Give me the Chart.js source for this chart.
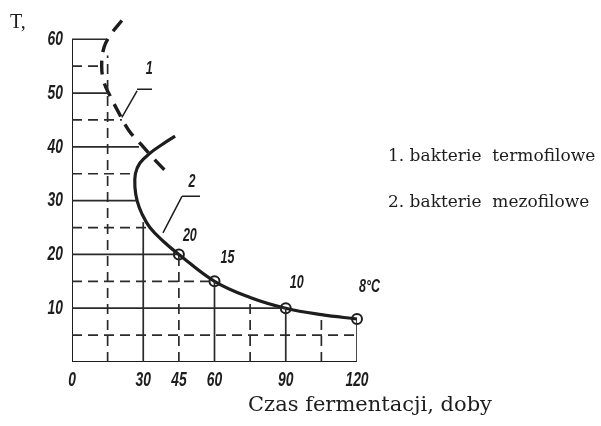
<!DOCTYPE html>
<html>
<head>
<meta charset="utf-8">
<script src="https://cdn.jsdelivr.net/npm/chart.js@4"></script>
<style>
  html, body { margin: 0; padding: 0; background: #fff; }
  #wrap { width: 601px; height: 426px; }
</style>
</head>
<body>
<div id="wrap"><canvas id="c"></canvas></div>
<script>
// krzywa 2 - bakterie mezofilowe (czas fermentacji, temperatura)
const mesoX = [120, 105, 90, 75, 60, 45, 38.3, 32.8, 29.5, 27.4, 26.5, 26.7, 28.6, 32.8, 37.5, 43.4];
const mesoT = [8, 8.8, 10, 12, 15, 20, 22.5, 25, 27.5, 30, 32.5, 35, 37, 38.8, 40.3, 42];
// krzywa 1 - bakterie termofilowe
const thermoX = [21, 16.5, 13.5, 12.5, 13.5, 16, 19.5, 24, 29, 33, 37, 41];
const thermoT = [63.5, 61, 58.5, 55, 52, 49.5, 46.5, 43, 40.5, 38.5, 36.6, 34.8];
// punkty zaznaczone kółkami
const markX = [45, 60, 90, 120];
const markT = [20, 15, 10, 8];
const markLabels = ['20', '15', '10', '8°C'];

const xTicks = [0, 30, 45, 60, 90, 120];
const yTicks = [10, 20, 30, 40, 50, 60];

// linie siatki poziome: poziom T i koniec linii (doby)
const hLevels = [5, 10, 15, 20, 25, 30, 35, 40, 45, 50, 55, 60];
const hEnds   = [120, 90, 60, 45, 32.8, 27.4, 26.7, 28.2, 21, 15.5, 12.6, 14.3];
// linie siatki pionowe: x i koniec linii (T)
const vLevels = [15, 30, 45, 60, 75, 90, 105, 120];
const vEnds   = [57, 26, 20, 15, 12, 10, 8.8, 8];

const legendLines = ['1. bakterie  termofilowe', '2. bakterie  mezofilowe'];

const ink = '#1d1d1d';
const datasets = [];

hLevels.forEach((t, i) => {
  datasets.push({
    data: [{x: 0, y: t}, {x: hEnds[i], y: t}],
    borderColor: '#2a2a2a', borderWidth: 1.7,
    borderDash: (t % 10 === 0) ? [] : [10, 6],
    pointRadius: 0, showLine: true
  });
});
vLevels.forEach((x, i) => {
  const solid = (x === 30 || x === 60 || x === 90 || x === 120);
  datasets.push({
    data: [{x: x, y: 0}, {x: x, y: vEnds[i]}],
    borderColor: '#2a2a2a', borderWidth: 1.7,
    borderDash: solid ? [] : [10, 6],
    pointRadius: 0, showLine: true
  });
});
// osie
datasets.push({ data: [{x: 0, y: 60}, {x: 0, y: 0}, {x: 120, y: 0}], borderColor: ink, borderWidth: 2,
  pointRadius: 0, showLine: true });
datasets.push({
  data: mesoX.map((x, i) => ({x: x, y: mesoT[i]})),
  borderColor: ink, borderWidth: 3.2, tension: 0.4, pointRadius: 0, showLine: true, clip: false
});
datasets.push({
  data: thermoX.map((x, i) => ({x: x, y: thermoT[i]})),
  borderColor: ink, borderWidth: 3.4, borderDash: [14, 9], tension: 0.4,
  pointRadius: 0, showLine: true, clip: false
});
datasets.push({
  data: markX.map((x, i) => ({x: x, y: markT[i]})),
  pointRadius: 5, pointBackgroundColor: '#fff', pointBorderColor: ink, pointBorderWidth: 2,
  showLine: false, clip: false
});

// tekst zwężony poziomo (pismo odręczne z rysunku)
function narrowText(ctx, str, x, y, align) {
  const k = 0.66;
  const w = ctx.measureText(str).width * k;
  let left = x;
  if (align === 'right') left = x - w;
  else if (align === 'center') left = x - w / 2;
  ctx.save();
  ctx.translate(left, y);
  ctx.scale(k, 1);
  ctx.textAlign = 'left';
  ctx.fillText(str, 0, 0);
  ctx.restore();
}

const textPlugin = {
  id: 'texts',
  afterDatasetsDraw(chart) {
    const ctx = chart.ctx, xs = chart.scales.x, ys = chart.scales.y;
    const px = v => xs.getPixelForValue(v), py = v => ys.getPixelForValue(v);
    ctx.save();
    ctx.fillStyle = ink;
    ctx.strokeStyle = ink;
    ctx.font = 'italic bold 21px "Liberation Sans", sans-serif';
    ctx.textBaseline = 'middle';
    yTicks.forEach(v => narrowText(ctx, String(v), px(0) - 9, py(v), 'right'));
    xTicks.forEach(v => narrowText(ctx, String(v), px(v), py(0) + 18, 'center'));

    // etykiety punktów
    ctx.font = 'italic bold 19px "Liberation Sans", sans-serif';
    const offs = [[4, -19], [6, -24], [4, -25], [2, -32]];
    markX.forEach((x, i) => narrowText(ctx, markLabels[i], px(x) + offs[i][0], py(markT[i]) + offs[i][1], 'left'));

    // oznaczenia krzywych 1 i 2 z odnośnikami
    ctx.lineWidth = 1.5;
    ctx.beginPath();
    ctx.moveTo(px(27.4), py(50.7)); ctx.lineTo(px(33.7), py(50.7));
    ctx.moveTo(px(27.4), py(50.4)); ctx.lineTo(px(21), py(45.5));
    ctx.moveTo(px(46.3), py(30.8)); ctx.lineTo(px(53.9), py(30.8));
    ctx.moveTo(px(46.3), py(30.8)); ctx.lineTo(px(38.3), py(24));
    ctx.stroke();
    narrowText(ctx, '1', px(32.5), py(54.5), 'center');
    narrowText(ctx, '2', px(50.5), py(33.6), 'center');

    // tytuły osi
    ctx.font = '20px "Liberation Serif", "DejaVu Serif", serif';
    ctx.textAlign = 'left';
    ctx.fillText('T,', 10, 23);
    ctx.font = '21px "DejaVu Serif", serif';
    ctx.textAlign = 'center';
    ctx.fillText('Czas fermentacji, doby', 370, 406);

    // opis krzywych
    ctx.font = '17px "DejaVu Serif", serif';
    ctx.textAlign = 'left';
    ctx.fillText(legendLines[0], 388, 157);
    ctx.fillText(legendLines[1], 388, 203);
    ctx.restore();
  }
};

new Chart(document.getElementById('c'), {
  type: 'scatter',
  data: { datasets: datasets },
  options: {
    responsive: true,
    maintainAspectRatio: false,
    animation: false,
    events: [],
    layout: { padding: { left: 72, right: 244, top: 7, bottom: 64 } },
    plugins: { legend: { display: false }, tooltip: { enabled: false } },
    scales: {
      x: { type: 'linear', min: 0, max: 120, display: false },
      y: { type: 'linear', min: 0, max: 66, display: false }
    }
  },
  plugins: [textPlugin]
});
</script>
</body>
</html>
